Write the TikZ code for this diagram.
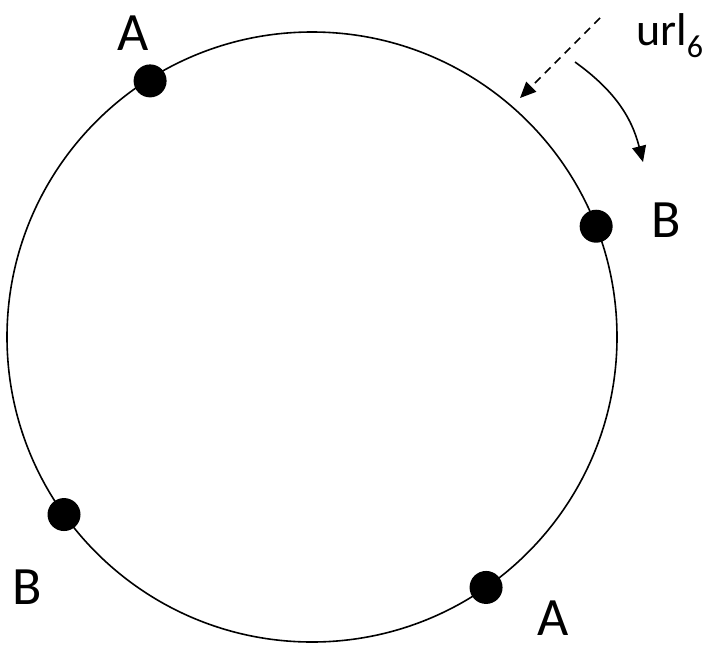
\documentclass[tikz,border=0pt]{standalone}
\usepackage{fontspec}
\setmainfont{Carlito}
\usetikzlibrary{arrows.meta,positioning,calc}

\begin{document}
\begin{tikzpicture}[
  x=1pt, y=1pt,
  dot/.style={circle, fill=black, inner sep=0pt, minimum size=33pt},
  lbl/.style={inner sep=0pt, font=\fontsize{54}{60}\selectfont},
  arrow/.style={-{Triangle[length=16pt,width=14pt]}, line width=1.6pt},
]
  \useasboundingbox (0,0) rectangle (717,-646);

  % Ring
  \coordinate (c) at (312,-337);
  \draw[line width=1.6pt] (c) circle (305);

  % Nodes on the ring
  \node[dot] (a1) at ($(c)+(122.3:303)$) {};
  \node[dot] (b1) at ($(c)+(21.3:305)$) {};
  \node[dot] (b2) at ($(c)+(215.6:305)$) {};
  \node[dot] (a2) at ($(c)+(304.8:305)$) {};

  % Labels
  \node[lbl] (la1) at (133,-33) {A};
  \node[lbl] (lb1) at (666,-220) {B};
  \node[lbl] (lb2) at (27,-587) {B};
  \node[lbl] (la2) at (553,-618) {A};

  % Key
  \node[lbl, anchor=base west, font=\fontsize{46}{50}\selectfont] (url) at (636,-45)
    {url\raisebox{-12pt}{\fontsize{32}{36}\selectfont 6}};

  % Arrows
  \coordinate (dstart) at (600,-18);
  \coordinate (dend) at (520,-98);
  \draw[arrow, dashed, dash pattern=on 8pt off 6pt] (dstart) -- (dend);
  \coordinate (cstart) at (575,-62);
  \coordinate (cend) at (643,-162);
  \draw[arrow] (cstart) to[bend left=20] (cend);

\end{tikzpicture}
\end{document}
